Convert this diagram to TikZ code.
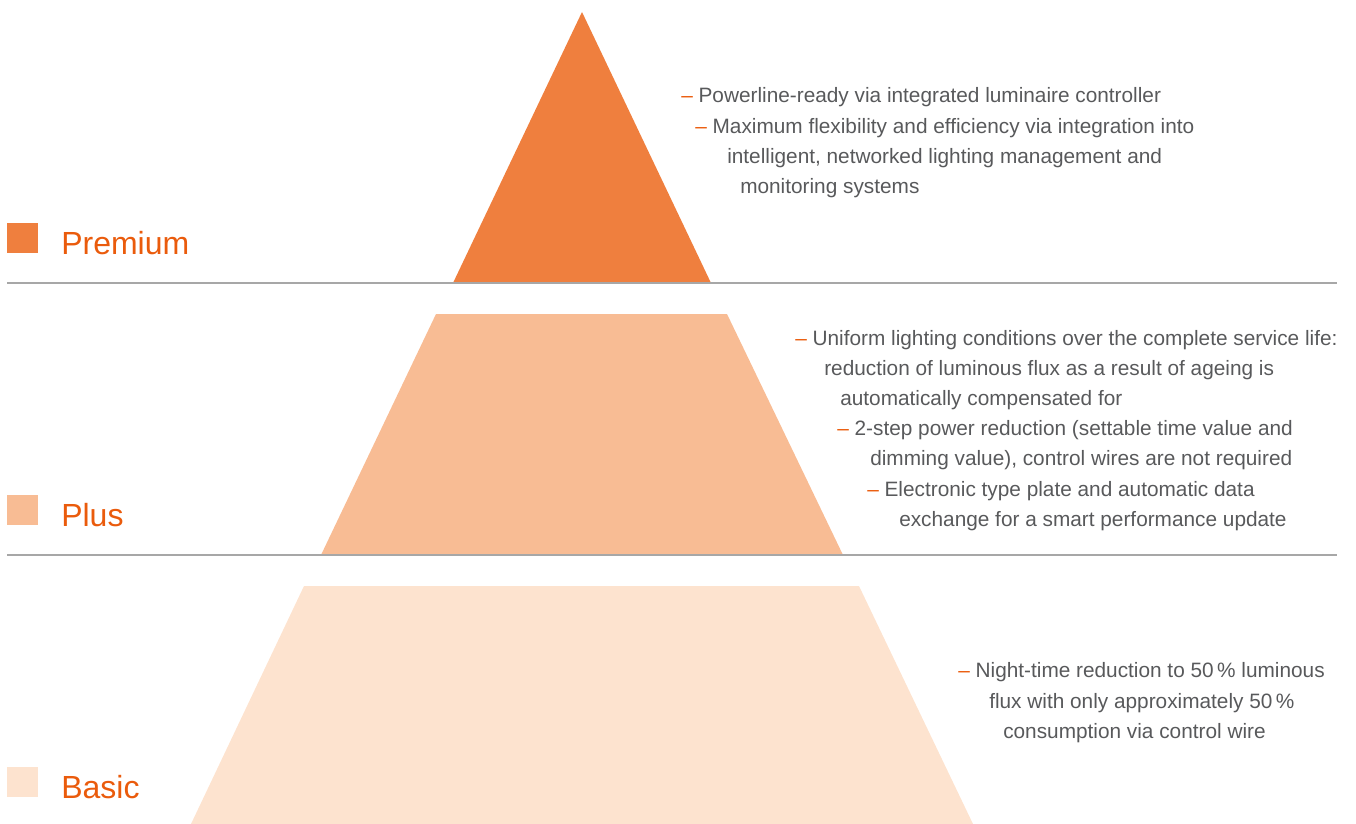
\documentclass[tikz,border=0pt]{standalone}
\usepackage{fontspec}
\setmainfont{Liberation Sans}
\usetikzlibrary{positioning}

\definecolor{premc}{HTML}{EF7F3E}
\definecolor{plusc}{HTML}{F8BC94}
\definecolor{basicc}{HTML}{FDE3CF}
\definecolor{accent}{HTML}{EA5B0C}
\definecolor{txtgray}{HTML}{58595B}
\definecolor{rulegray}{HTML}{A7A7A7}

\newcommand{\dashitem}{{\color{accent}--}\ }

\begin{document}
\begin{tikzpicture}[x=0.75pt,y=-0.75pt,
	txt/.style={anchor=base west,inner sep=0pt,text=txtgray,font=\fontsize{15.6}{18}\selectfont},
	tier/.style={anchor=base west,inner sep=0pt,text=accent,font=\fontsize{24}{28}\selectfont},
	sep line/.style={draw=rulegray,line width=1.4pt}]
	
	\useasboundingbox (0,0) rectangle (1356,824);
	
	% pyramid levels
	\fill[premc] (582,12) -- (711,283) -- (453,283) -- cycle;
	\fill[plusc] (436,314) -- (727,314) -- (843,555) -- (321,555) -- cycle;
	\fill[basicc] (304,586) -- (859,586) -- (973,824) -- (191,824) -- cycle;
	
	% separators
	\coordinate (s1w) at (7,283);
	\coordinate (s1e) at (1337,283);
	\coordinate (s2w) at (7,555);
	\coordinate (s2e) at (1337,555);
	\draw[sep line] (s1w) -- (s1e);
	\draw[sep line] (s2w) -- (s2e);
	
	% legend
	\fill[premc] (7,223) rectangle (38,253);
	\fill[plusc] (7,495) rectangle (38,525);
	\fill[basicc] (7,767) rectangle (38,797);
	\node[tier] (premium) at (61,254) {Premium};
	\node[tier] (plus) at (61,526) {Plus};
	\node[tier] (basic) at (61,798) {Basic};
	
	% premium
	\node[txt] (p1) at (681,103) {\dashitem Powerline-ready via integrated luminaire controller};
	\node[txt] (p2) at (695,133) {\dashitem Maximum flexibility and efficiency via integration into};
	\node[txt] (p3) at (727,163) {intelligent, networked lighting management and};
	\node[txt] (p4) at (740,193) {monitoring systems};
	
	% plus
	\node[txt] (q1) at (795,345) {\dashitem Uniform lighting conditions over the complete service life:};
	\node[txt] (q2) at (824,375) {reduction of luminous flux as a result of ageing is};
	\node[txt] (q3) at (840,405) {automatically compensated for};
	\node[txt] (q4) at (837,435) {\dashitem 2-step power reduction (settable time value and};
	\node[txt] (q5) at (870,465) {dimming value), control wires are not required};
	\node[txt] (q6) at (867,496) {\dashitem Electronic type plate and automatic data};
	\node[txt] (q7) at (899,526) {exchange for a smart performance update};
	
	% basic
	\node[txt] (b1) at (958,677) {\dashitem Night-time reduction to 50\,\% luminous};
	\node[txt] (b2) at (989,708) {flux with only approximately 50\,\%};
	\node[txt] (b3) at (1003,738) {consumption via control wire};
\end{tikzpicture}
\end{document}
